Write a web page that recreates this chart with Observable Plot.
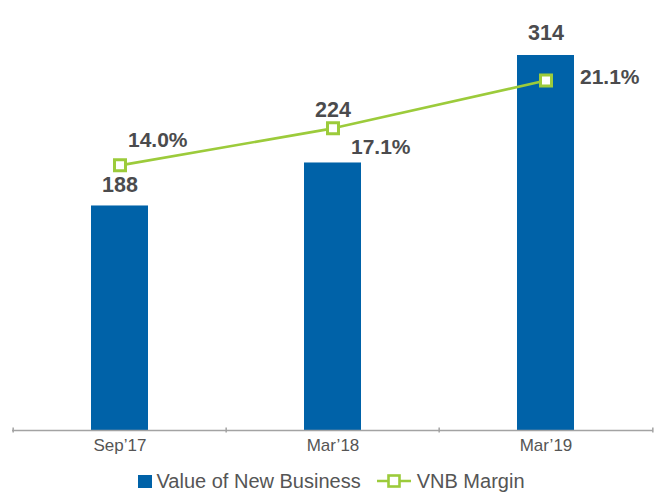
<!DOCTYPE html>
<html>
<head>
<meta charset="utf-8">
<script src="https://cdn.jsdelivr.net/npm/d3@7"></script>
<script src="https://cdn.jsdelivr.net/npm/@observablehq/plot@0.6"></script>
<style>
  html, body { margin: 0; padding: 0; background: #fff; }
  #chart { width: 662px; }
  .legend { display: flex; justify-content: center; align-items: center; font-family: "Liberation Sans", Arial, sans-serif; font-size: 20px; color: #555; line-height: 24px; padding-top: 7px; }
  .legend .item { display: flex; align-items: center; }
  .legend .sw { width: 14px; height: 13px; margin-right: 5px; }
  .legend svg { margin-right: 6px; }
</style>
</head>
<body>
<div id="chart"></div>
<script>
// ---- data ----
const categories = ["Sep’17", "Mar’18", "Mar’19"];
const vnbValues = [188, 224, 314];
const marginValues = [14.0, 17.1, 21.1];
const marginLabels = ["14.0%", "17.1%", "21.1%"];
const seriesNames = ["Value of New Business", "VNB Margin"];

// ---- style ----
const BLUE = "#0062a8";
const GREEN = "#9ccb3b";
const LABEL = "#4b4b4d";
const AXIS = "#a3a3a3";
const W = 662, H = 462, ML = 12, MR = 9, MT = 12, MB = 32;
const bw = (W - ML - MR) / categories.length;

const rows = categories.map((c, i) => ({cat: c, vnb: vnbValues[i], margin: marginValues[i], mlabel: marginLabels[i]}));

// secondary (margin) axis mapped onto the primary y domain
const marginScale = d3.scaleLinear().domain([14, 21.1]).range([222, 293]);

const vnbLabelDy = [-14, -46, -15];
const marginLabelOff = [{dx: 8, dy: -18}, {dx: 18, dy: 26}, {dx: 34, dy: 3}];

const marks = [
  Plot.barY(rows, {x: "cat", y: "vnb", fill: BLUE, insetLeft: 78, insetRight: 78}),
  Plot.ruleY([0], {stroke: AXIS, strokeWidth: 1.5}),
  Plot.ruleX(categories, {x: d => d, y1: -2.1, y2: 2.1, dx: -bw / 2, stroke: AXIS, strokeWidth: 1.5}),
  Plot.ruleX([categories[categories.length - 1]], {x: d => d, y1: -2.1, y2: 2.1, dx: bw / 2, stroke: AXIS, strokeWidth: 1.5}),
  Plot.axisX({tickSize: 0, tickPadding: 8, label: null, fontSize: 17, fill: "#555"}),
  Plot.line(rows, {x: "cat", y: d => marginScale(d.margin), stroke: GREEN, strokeWidth: 2.6}),
  Plot.dot(rows, {x: "cat", y: d => marginScale(d.margin), symbol: "square", r: 6.2, fill: "white", stroke: GREEN, strokeWidth: 3})
];
rows.forEach((r, i) => {
  marks.push(Plot.text([r], {x: "cat", y: "vnb", text: d => String(d.vnb), dy: vnbLabelDy[i], lineAnchor: "bottom", textAnchor: "middle", fontSize: 21.5, fontWeight: "bold", fill: LABEL}));
  marks.push(Plot.text([r], {x: "cat", y: d => marginScale(d.margin), text: "mlabel", dx: marginLabelOff[i].dx, dy: marginLabelOff[i].dy, lineAnchor: "bottom", textAnchor: "start", fontSize: 21, fontWeight: "bold", fill: LABEL}));
});

const chart = Plot.plot({
  width: W, height: H, marginTop: MT, marginBottom: MB, marginLeft: ML, marginRight: MR,
  x: {domain: categories, padding: 0, axis: null},
  y: {domain: [0, 350], axis: null},
  style: {fontFamily: "'Liberation Sans', Arial, sans-serif", fontSize: "16px", background: "white", overflow: "visible"},
  marks
});
document.getElementById("chart").appendChild(chart);

// legend
const legend = document.createElement("div");
legend.className = "legend";
legend.innerHTML = `
  <div class="item"><div class="sw" style="background:${BLUE}"></div><span>${seriesNames[0]}</span></div>
  <div class="item" style="margin-left:16px">
    <svg width="34" height="14" viewBox="0 0 34 14"><line x1="0" y1="7" x2="34" y2="7" stroke="${GREEN}" stroke-width="2.5"/><rect x="11.5" y="1.5" width="11" height="11" fill="white" stroke="${GREEN}" stroke-width="2.6"/></svg>
    <span>${seriesNames[1]}</span></div>`;
document.getElementById("chart").appendChild(legend);
</script>
</body>
</html>
